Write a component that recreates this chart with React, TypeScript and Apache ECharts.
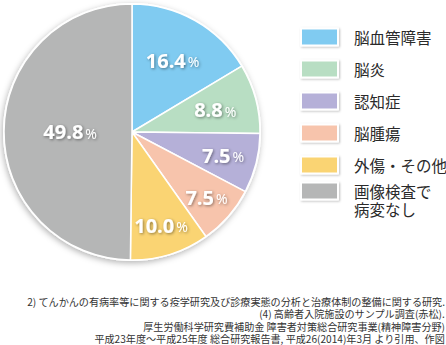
import React, { useEffect, useRef } from "react";
import * as echarts from "echarts";

const categories = ["脳血管障害", "脳炎", "認知症", "脳腫瘍", "外傷・その他", "画像検査で\n病変なし"];
const values = [16.4, 8.8, 7.5, 7.5, 10.0, 49.8];
const colors = ["#80CBF1", "#B8DEC3", "#B5B0D8", "#F7C4AC", "#FAD473", "#B5B6B6"];
const footnote = [
  "2) てんかんの有病率等に関する疫学研究及び診療実態の分析と治療体制の整備に関する研究.",
  "(4) 高齢者入院施設のサンプル調査(赤松).",
  "厚生労働科学研究費補助金 障害者対策総合研究事業(精神障害分野)",
  "平成23年度～平成25年度 総合研究報告書, 平成26(2014)年3月 より引用、作図",
];

export default function App() {
  const ref = useRef<HTMLDivElement>(null);
  useEffect(() => {
    if (!ref.current) return;
    const chart = echarts.init(ref.current, null, { renderer: "svg" });
    const R = 128;
    const center = [132, 132];
    const cjk = '"Noto Sans CJK JP", "Noto Sans", sans-serif';
    const data = categories.map((name, i) => ({
      name,
      value: values[i],
      itemStyle: { color: colors[i] },
    }));
    // label radial position factor per slice (fraction of R)
    const labelFactor = [0.62, 0.65, 0.71, 0.75, 0.74, 0.46];
    const groups = Array.from(new Set(labelFactor));
    const shadow = {
      textShadowColor: "rgba(0,0,0,0.45)",
      textShadowBlur: 3,
      textShadowOffsetX: 1,
      textShadowOffsetY: 1,
    };
    const labelSeries = groups.map((f) => ({
      type: "pie",
      center,
      radius: [0, 2 * f * R],
      startAngle: 90,
      silent: true,
      z: 5,
      emphasis: { disabled: true },
      labelLine: { show: false },
      itemStyle: { color: "rgba(0,0,0,0)", borderWidth: 0 },
      data: categories.map((name, i) => ({
        name: name + "_l" + f,
        value: values[i],
        label: {
          show: labelFactor[i] === f,
          position: "inside",
          formatter: () => "{v|" + values[i].toFixed(1) + "}{p|%}",
          rich: {
            v: {
              fontSize: 20,
              fontWeight: "bold",
              color: "#fff",
              fontFamily: '"Open Sans", "Noto Sans", sans-serif',
              ...shadow,
            },
            p: {
              fontSize: 14,
              color: "#fff",
              padding: [3, 0, 0, 2],
              fontFamily: '"Open Sans", "Noto Sans", sans-serif',
              ...shadow,
            },
          },
        },
      })),
    }));
    const legendBase = {
      orient: "vertical",
      left: 300,
      padding: 0,
      itemWidth: 37,
      itemHeight: 17,
      itemGap: 13,
      icon: "rect",
      selectedMode: false,
      itemStyle: {
        shadowColor: "rgba(0,0,0,0.25)",
        shadowBlur: 2,
        shadowOffsetX: 1,
        shadowOffsetY: 1,
      },
    };
    const textBase = {
      fontSize: 15.5,
      lineHeight: 17,
      color: "#2a2a2a",
      fontFamily: cjk,
      padding: [0, 0, 0, 11],
    };
    const last = categories.length - 1;
    chart.setOption({
      animation: false,
      legend: [
        {
          ...legendBase,
          top: 27.5,
          textStyle: textBase,
          data: categories.slice(0, last),
        },
        {
          ...legendBase,
          top: 164,
          textStyle: { ...textBase, lineHeight: 18 },
          formatter: (name: string) => "\n" + name,
          data: [categories[last]],
        },
      ],
      graphic: footnote.map((t, i) => ({
        type: "text",
        right: 1,
        top: 296 + i * 12.4,
        style: {
          text: t,
          font: '10.1px "Noto Sans CJK JP", sans-serif',
          lineHeight: 11,
          fill: "#333",
        },
      })),
      series: [
        {
          type: "pie",
          center,
          radius: [0, R + 1],
          silent: true,
          z: 1,
          label: { show: false },
          emphasis: { disabled: true },
          itemStyle: {
            color: "#fff",
            shadowColor: "rgba(0,0,0,0.3)",
            shadowBlur: 6,
            shadowOffsetX: -1,
            shadowOffsetY: 2,
          },
          data: [{ value: 1, name: "bg" }],
        },
        {
          type: "pie",
          center,
          radius: [0, R],
          startAngle: 90,
          z: 2,
          label: { show: false },
          labelLine: { show: false },
          emphasis: { disabled: true },
          itemStyle: { borderColor: "#fff", borderWidth: 1.5 },
          data,
        },
        ...labelSeries,
      ],
    } as any);
    return () => chart.dispose();
  }, []);
  return (
    <div
      ref={ref}
      style={{ position: "absolute", left: 0, top: 0, width: 446, height: 345 }}
    />
  );
}
